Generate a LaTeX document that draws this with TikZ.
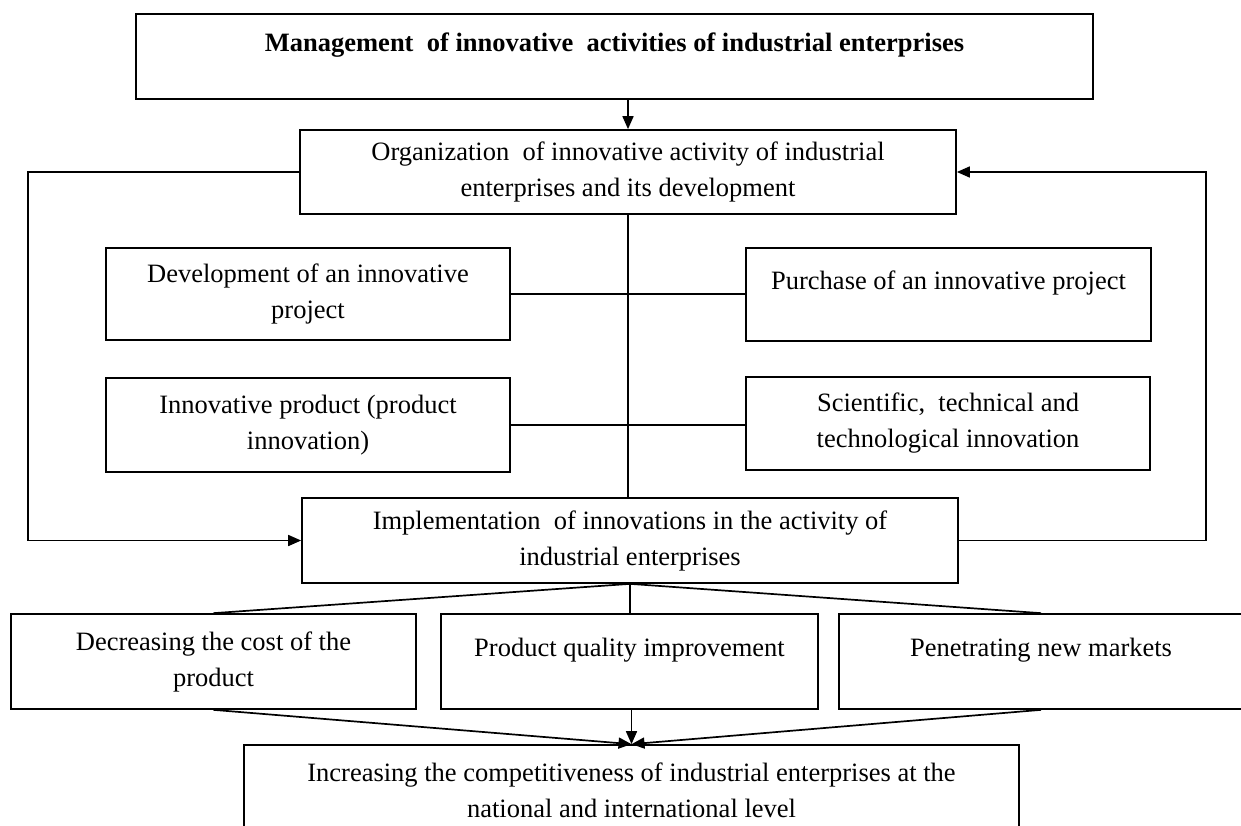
\documentclass[tikz,border=0pt]{standalone}
\usepackage{fontspec}
\setmainfont{Liberation Serif}
\usetikzlibrary{arrows.meta}
\tikzset{
  box/.style={draw, line width=1.7pt, rectangle, inner sep=0pt, align=center,
    font=\fontsize{26.5}{36}\selectfont},
  conn/.style={line width=1.7pt},
  arr/.style={line width=1.7pt, -{Triangle[length=13pt,width=11pt]}}
}
\begin{document}
\begin{tikzpicture}[x=1pt,y=-1pt]
\useasboundingbox (0,0) rectangle (1241,825);
\clip (0,0) rectangle (1241,825);
\node[box, minimum width=957pt, minimum height=85pt] (top) at (614.5,56.5)
  {\textbf{Management\ \ of innovative\ \ activities of industrial enterprises}\\[-7pt] \mbox{}};
\node[box, minimum width=656pt, minimum height=84pt] (org) at (628,172)
  {Organization\ \ of innovative activity of industrial\\ enterprises and its development};
\node[box, minimum width=404pt, minimum height=92pt] (dev) at (308,294)
  {Development of an innovative\\ project};
\node[box, minimum width=405pt, minimum height=93pt] (pur) at (948.5,294.5)
  {Purchase of an innovative project\\[-8pt] \mbox{}};
\node[box, minimum width=404pt, minimum height=94pt] (inn) at (308,425)
  {Innovative product (product\\ innovation)};
\node[box, minimum width=404pt, minimum height=93pt] (sci) at (948,423.5)
  {Scientific,\ \ technical and\\ technological innovation};
\node[box, minimum width=656pt, minimum height=85pt] (impl) at (630,540.5)
  {Implementation\ \ of innovations in the activity of\\ industrial enterprises};
\node[box, minimum width=405pt, minimum height=95pt] (dec) at (213.5,661.5)
  {Decreasing the cost of the\\ product};
\node[box, minimum width=377pt, minimum height=95pt] (pq) at (629.5,661.5)
  {Product quality improvement\\[-8pt] \mbox{}};
\node[box, minimum width=404pt, minimum height=95pt] (pen) at (1041,661.5)
  {Penetrating new markets\\[-8pt] \mbox{}};
\node[box, minimum width=775pt, minimum height=90pt] (inc) at (631.5,790)
  {Increasing the competitiveness of industrial enterprises at the\\ national and international level};
\coordinate (lc) at (28,172);
\coordinate (rc) at (1206,172);
% connectors
\draw[arr] (top.south -| org.north) -- (org.north);
\draw[conn] (org.south) -- (org.south |- impl.north);
\draw[conn] (dev.east) -- (dev.east -| pur.west);
\draw[conn] (inn.east) -- (inn.east -| sci.west);
\draw[arr] (org.west) -- (lc) |- (impl.west);
\draw[arr] (impl.east) -| (rc) -- (org.east);
\draw[conn] (impl.south) -- (dec.north);
\draw[conn] (impl.south) -- (impl.south |- pq.north);
\draw[conn] (impl.south) -- (pen.north);
\draw[arr] (dec.south) -- (inc.north);
\draw[arr] (pq.south -| inc.north) -- (inc.north);
\draw[arr] (pen.south) -- (inc.north);
\end{tikzpicture}
\end{document}
